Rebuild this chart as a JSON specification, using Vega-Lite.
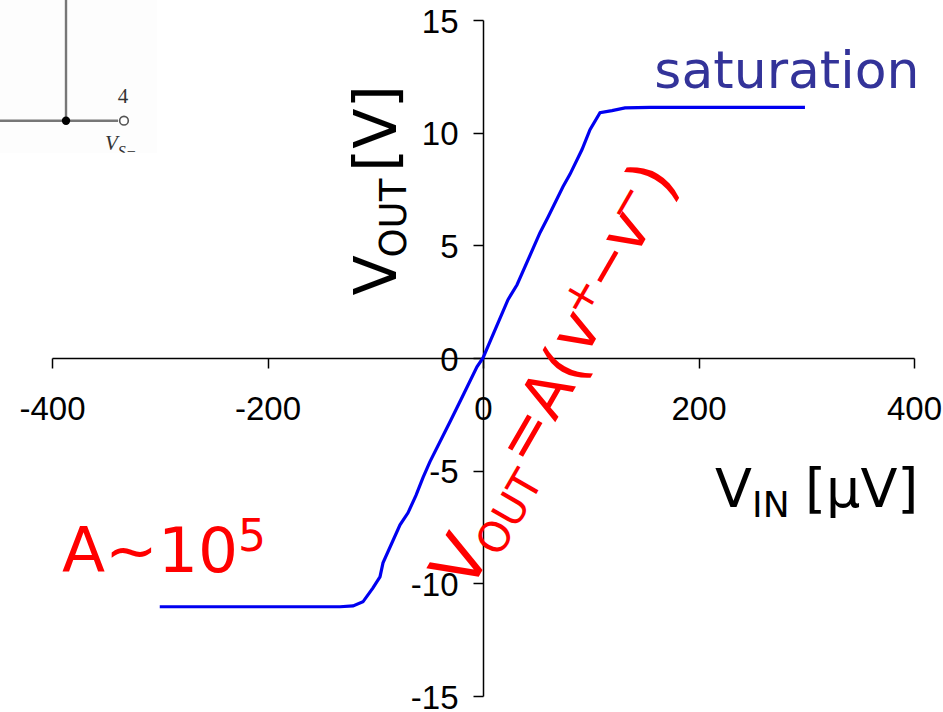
{"$schema":"https://vega.github.io/schema/vega-lite/v6.json","width":862,"height":676,"autosize":"none","padding":{"left":52,"top":20,"right":29,"bottom":16},"background":"white","view":{"stroke":null},
"config":{"text":{"font":"DejaVu Sans"}},
"encoding":{"x":{"field":"x","type":"quantitative","scale":{"domain":[-400,400]},"axis":{"orient":"bottom","offset":-338,"values":[-400,-200,0,200,400],"title":null,"grid":false,"domainColor":"black","domainWidth":1.5,"tickColor":"black","tickWidth":1.5,"tickSize":10,"labelFont":"Liberation Sans","labelFontSize":33,"labelColor":"black","labelPadding":25,"labelExpr":"''+datum.value","labelOverlap":false,"labelFlush":false,"labelBound":false}},
"y":{"field":"y","type":"quantitative","scale":{"domain":[-15,15]},"axis":{"orient":"left","offset":-431,"values":[-15,-10,-5,0,5,10,15],"title":null,"grid":false,"domainColor":"black","domainWidth":1.5,"tickColor":"black","tickWidth":1.5,"tickSize":10,"labelFont":"Liberation Sans","labelFontSize":33,"labelColor":"black","labelPadding":15,"labelOffset":2,"labelExpr":"''+datum.value","labelOverlap":false,"labelBound":false}}},
"layer":[
{"data":{"values":[{"x":-448.3,"x2":-302.6,"y":15.9,"y2":9.11}]},"mark":{"type":"rect","color":"#fdfdfd"},"encoding":{"x2":{"field":"x2"},"y2":{"field":"y2"}}},
{"data":{"values":[{"x":-448.3,"x2":-338.7,"y":10.53,"y2":10.53},{"x":-387,"x2":-387,"y":15.9,"y2":10.53}]},"mark":{"type":"rule","color":"#777777","strokeWidth":2.4},"encoding":{"x2":{"field":"x2"},"y2":{"field":"y2"}}},
{"data":{"values":[{"x":-387,"y":10.53}]},"mark":{"type":"point","filled":true,"color":"black","size":70,"opacity":1}},
{"data":{"values":[{"x":-333.2,"y":10.53}]},"mark":{"type":"point","filled":false,"color":"#555555","fill":"white","strokeWidth":1.6,"size":75,"opacity":1}},
{"data":{"values":[{"x":-334,"y":11.33,"t":"4"}]},"mark":{"type":"text","font":"Liberation Serif","fontSize":21,"color":"#333333","align":"center","baseline":"alphabetic"},"encoding":{"text":{"field":"t"}}},
{"data":{"values":[{"x":-350.8,"y":9.25,"t":"V"}]},"mark":{"type":"text","font":"Liberation Serif","fontStyle":"italic","fontSize":21,"color":"#333333","align":"left","baseline":"alphabetic"},"encoding":{"text":{"field":"t"}}},
{"data":{"values":[{"x":-339,"y":8.93,"t":"S−"}]},"mark":{"type":"text","font":"Liberation Serif","fontStyle":"italic","fontSize":16,"color":"#333333","align":"left","baseline":"alphabetic"},"encoding":{"text":{"field":"t"}}},
{"data":{"values":[{"x":-355,"x2":-310,"y":9.11,"y2":8.58}]},"mark":{"type":"rect","color":"white"},"encoding":{"x2":{"field":"x2"},"y2":{"field":"y2"}}},
{"data":{"values":[{"x":-300,"y":-11.04},{"x":-132.7,"y":-11.04},{"x":-120.6,"y":-11.0},{"x":-111.4,"y":-10.82},{"x":-102.1,"y":-10.2},{"x":-95.6,"y":-9.71},{"x":-92.8,"y":-9.09},{"x":-77,"y":-7.4},{"x":-69.6,"y":-6.87},{"x":-62.2,"y":-6.1},{"x":-55.7,"y":-5.31},{"x":-49.2,"y":-4.6},{"x":-30.6,"y":-2.83},{"x":-19.5,"y":-1.75},{"x":-5.6,"y":-0.39},{"x":0,"y":0},{"x":23.2,"y":2.59},{"x":31.6,"y":3.25},{"x":52.9,"y":5.56},{"x":60.3,"y":6.25},{"x":74.2,"y":7.6},{"x":80.7,"y":8.15},{"x":91.9,"y":9.25},{"x":99.3,"y":10.13},{"x":108.6,"y":10.89},{"x":119.7,"y":10.98},{"x":131.8,"y":11.1},{"x":155,"y":11.12},{"x":298.8,"y":11.12}]},
"mark":{"type":"line","color":"#0000f0","strokeWidth":3.2}},
{"data":{"values":[{"x":159,"y":12.0,"t":"saturation"}]},"mark":{"type":"text","fontSize":52,"color":"#333399","align":"left","baseline":"alphabetic"},"encoding":{"text":{"field":"t"}}},
{"data":{"values":[{"x":-80.5,"y":2.77,"t":"V"},{"x":-80.5,"y":8.27,"t":"[V]"}]},"mark":{"type":"text","fontSize":59,"color":"black","align":"left","baseline":"alphabetic","angle":270},"encoding":{"text":{"field":"t"}}},
{"data":{"values":[{"x":-71.5,"y":4.46,"t":"OUT"}]},"mark":{"type":"text","fontSize":37,"color":"black","align":"left","baseline":"alphabetic","angle":270},"encoding":{"text":{"field":"t"}}},
{"data":{"values":[{"x":215.3,"y":-6.6,"t":"V"},{"x":298.8,"y":-6.6,"t":"[µV]"}]},"mark":{"type":"text","fontSize":54,"color":"black","align":"left","baseline":"alphabetic"},"encoding":{"text":{"field":"t"}}},
{"data":{"values":[{"x":249.7,"y":-7.05,"t":"IN"}]},"mark":{"type":"text","fontSize":36,"color":"black","align":"left","baseline":"alphabetic"},"encoding":{"text":{"field":"t"}}},
{"data":{"values":[{"x":-390.7,"y":-9.49,"t":"A~10"}]},"mark":{"type":"text","fontSize":63,"color":"red","align":"left","baseline":"alphabetic"},"encoding":{"text":{"field":"t"}}},
{"data":{"values":[{"x":-227.4,"y":-8.55,"t":"5"}]},"mark":{"type":"text","fontSize":44,"color":"red","align":"left","baseline":"alphabetic"},"encoding":{"text":{"field":"t"}}},
{"data":{"values":[{"x":42.7,"y":-4.87,"t":"=A("},{"x":94.7,"y":0,"t":"v"},{"x":140.6,"y":4.43,"t":"v"}]},"mark":{"type":"text","fontSize":62,"color":"red","align":"left","baseline":"alphabetic","angle":300},"encoding":{"text":{"field":"t"}}},
{"data":{"values":[{"x":-13,"y":-10.45,"t":"V"}]},"mark":{"type":"text","fontSize":68,"color":"red","align":"left","baseline":"alphabetic","angle":300},"encoding":{"text":{"field":"t"}}},
{"data":{"values":[{"x":15,"y":-8.9,"t":"OUT"}]},"mark":{"type":"text","fontSize":42,"color":"red","align":"left","baseline":"alphabetic","angle":300},"encoding":{"text":{"field":"t"}}},
{"data":{"values":[{"x":91.9,"y":2.72,"t":"+"},{"x":132.7,"y":6.9,"t":"−"}]},"mark":{"type":"text","fontSize":44,"color":"red","align":"center","baseline":"middle","angle":300},"encoding":{"text":{"field":"t"}}},
{"data":{"values":[{"x":116,"y":4.06,"t":"−"}]},"mark":{"type":"text","fontSize":55,"color":"red","align":"center","baseline":"middle","angle":300},"encoding":{"text":{"field":"t"}}},
{"data":{"values":[{"x":160,"y":7.85,"t":")"}]},"mark":{"type":"text","fontSize":68,"color":"red","align":"center","baseline":"middle","angle":300},"encoding":{"text":{"field":"t"}}}
]}
